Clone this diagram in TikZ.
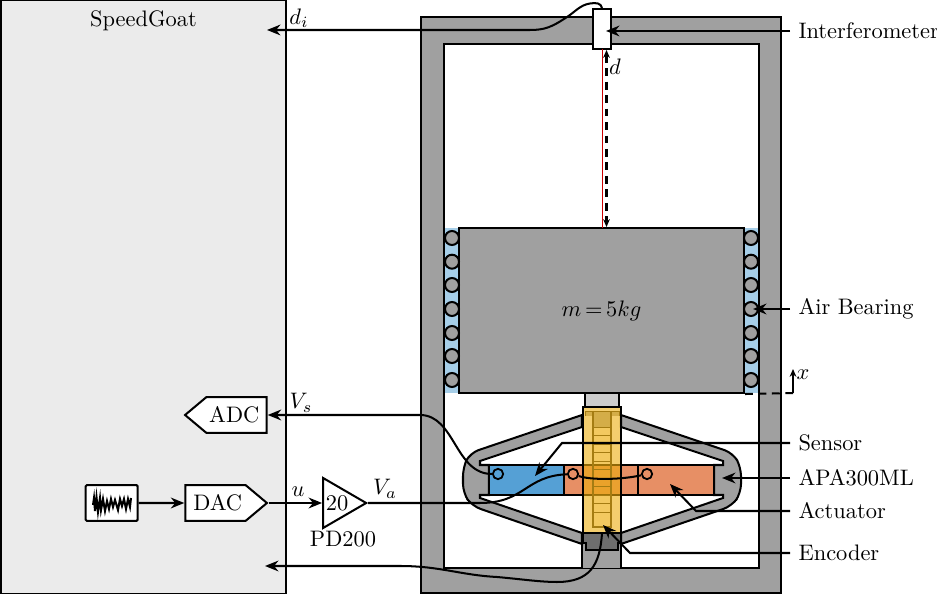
\documentclass[tikz,border=0pt]{standalone}
\usepackage{amsmath}
\usepackage{xcolor}
\usepackage{tikz}
\usetikzlibrary{arrows.meta, shapes.geometric, shapes.symbols}

\definecolor{framegray}{HTML}{A0A0A0}
\definecolor{boardgray}{HTML}{EBEBEB}
\definecolor{stubgray}{HTML}{CCCCCC}
\definecolor{headgray}{HTML}{6E6E6E}
\definecolor{airblue}{HTML}{A6CEE8}
\definecolor{sensorblue}{HTML}{55A0D5}
\definecolor{actorange}{HTML}{E78F65}
\definecolor{rulergold}{HTML}{EDAD0D}
\definecolor{rungbrown}{HTML}{A57C12}

\tikzset{
    wire/.style={line width=0.9pt},
    part/.style={draw=black, line width=0.9pt},
    callout/.style={anchor=west, inner sep=3.6pt},
    pin/.style={circle, draw=black, line width=0.8pt, minimum size=4.6pt, inner sep=0pt},
    bearing/.style={fill=framegray, draw=black, line width=0.9pt},
    rung/.style={draw=rungbrown, line width=0.4pt},
    adapter/.style={signal, draw=black, fill=white, line width=0.9pt, inner sep=0pt,
        minimum width=36.4pt, minimum height=15.9pt, signal pointer angle=80},
}

\begin{document}
\begin{tikzpicture}[x=0.446pt, y=-0.446pt, >={Stealth[length=6pt,width=4.8pt]}]
    \useasboundingbox (0,0) rectangle (937,594);

    % SpeedGoat
    \fill[boardgray] (0,0) rectangle (286,594);
    \draw[part] (0.5,0) rectangle (286,594);
    \node[inner sep=0pt] (speedgoat) at (143.5,21) {SpeedGoat};

    % Bati
    \draw[part, fill=framegray, even odd rule] (421,17) rectangle (781,593) (444,44) rectangle (759,568);
    \draw[part, fill=framegray] (582,568) -- (582,533) -- (621,533) -- (621,568);

    % Air bearing
    \fill[airblue] (445,228) rectangle (459,393);
    \fill[airblue] (744,228) rectangle (758,393);

    % Masse
    \node[part, fill=framegray, minimum width=127.1pt, minimum height=73.6pt, inner sep=0pt] (mass) at (601.5,310.5) {$m\,{=}\,5kg$};
    \foreach \y in {238,261.7,285,309,333,356,380} {
        \draw[bearing] (452,\y) circle (7);
        \draw[bearing] (751,\y) circle (7);
    }
    \draw[part, fill=stubgray] (585,393) rectangle (619,407);

    % APA
    \draw[part, fill=framegray] (582,415) [rounded corners=4pt] -- (470,453) -- (463,467) -- (463,493) -- (472,506) [sharp corners] -- (582,544) -- (582,533)
        -- (480,498) -- (480,495) -- (489,495) -- (489,465) -- (480,465) -- (480,461) -- (582,427) -- cycle;
    \draw[part, fill=framegray] (621,415) [rounded corners=4pt] -- (733,453) -- (741,467) -- (741,493) -- (732,506) [sharp corners] -- (621,544) -- (621,533)
        -- (723,498) -- (723,495) -- (714,495) -- (714,465) -- (723,465) -- (723,461) -- (621,427) -- cycle;
    \draw[part, fill=sensorblue] (489,465) rectangle (564,495);
    \draw[part, fill=actorange] (564,465) rectangle (638,495);
    \draw[part, fill=actorange] (638,465) rectangle (714,495);

    % Codeur
    \fill[rulergold, opacity=0.6] (583,407) rectangle (621,533);
    \fill[rungbrown, opacity=0.4] (585,411) rectangle (619,416);
    \fill[rungbrown, opacity=0.4] (593,416) rectangle (611,427);
    \fill[rulergold, opacity=0.15] (593,427) rectangle (611,527);
    \draw[rung, line width=0.7pt] (593,411) -- (593,527) -- (611,527) -- (611,411);
    \draw[rung] (585,416) -- (585,411) -- (619,411) -- (619,416);
    \foreach \y in {427,435.5,...,520} {
        \draw[rung] (593,\y) -- (611,\y);
    }
    \draw[part] (583,407) rectangle (621,533);
    \draw[part, fill=headgray] (583,533) -- (621,533) -- (621,543) -- (617.7,543) -- (617.7,550) -- (585.7,550) -- (585.7,543) -- (583,543) -- cycle;

    % Interferometre
    \node[part, fill=white, minimum width=8.1pt, minimum height=17.8pt, inner sep=0pt] (interf) at (602,29) {};
    \coordinate (beam) at (602.5,228);
    \draw[red!80!black, line width=0.6pt] (602.5,49) -- (beam);
    \draw[<->, wire, dash pattern=on 3.5pt off 2.5pt, >={Stealth[length=3.5pt,width=3pt]}] (606.5,50) -- (606.5,227);
    \node[inner sep=0pt] (dlabel) at (615,67) {$d$};

    % Contacts
    \node[pin] (pina) at (498,474) {};
    \node[pin] (pinb) at (573,474) {};
    \node[pin] (pinc) at (647,474) {};

    % Blocs SpeedGoat
    \node[adapter, signal to=west, signal from=nowhere] (adc) at (236.5,415) {ADC\hspace*{2pt}};
    \node[adapter, signal to=east, signal from=nowhere] (dac) at (215.5,503) {\hspace*{2pt}DAC};
    \node[part, fill=white, rounded corners=0.5pt, minimum width=23.2pt, minimum height=15.9pt, inner sep=0pt] (noise) at (111.7,503) {};
    \draw[line width=0.9pt] (93,505) -- (94,498) -- (95,511) -- (96.5,497) -- (98,512) -- (100,498) -- (101,510) -- (103,499) -- (105,511) -- (107,501) -- (109,509) -- (111,499) -- (113,507) -- (115,500) -- (118,510) -- (120,499) -- (122,506) -- (124,499) -- (126,509) -- (128,499) -- (130,507) -- (131,498);
    \node[isosceles triangle, isosceles triangle apex angle=60, isosceles triangle stretches, draw=black, fill=white, line width=0.9pt,
        minimum width=22.3pt, minimum height=19.2pt, inner sep=0pt] (amp) at (337.5,503) {};
    \node[inner sep=0pt] (gain) at (337,503) {20};
    \node[inner sep=0pt] (pd) at (343,539) {PD200};

    % Signaux
    \draw[->, wire] (noise) -- (dac);
    \draw[->, wire] (dac.east) -- (amp.west);
    \draw[wire] (amp.east) -- (480,503) .. controls (525,503) and (525,476) .. (pinb);
    \draw[wire] (pinb) .. controls (590,480) and (620,480) .. (pinc);
    \draw[->, wire] (pina) .. controls (455,474) and (455,415) .. (420,415) -- (adc.east);

    \coordinate (di) at (267,30);
    \coordinate (enc) at (265,566);
    \coordinate (head) at (602,533);
    \draw[->, wire] (interf.north) .. controls (601,3) and (596,2.5) .. (590,3.5) .. controls (580,5) and (575,12) .. (567,17) .. controls (552,27) and (545,30) .. (530,30) -- (di);
    \draw[->, wire] (head) .. controls (600,565) and (590,582) .. (557,582) .. controls (540,582) and (520,579) .. (497,577) .. controls (460,575) and (440,566) .. (400,566) -- (enc);

    \node[inner sep=0pt] at (299,18) {$d_i$};
    \node[inner sep=0pt] at (301,403) {$V_s$};
    \node[inner sep=0pt] at (298,492) {$u$};
    \node[inner sep=0pt] at (385,489) {$V_a$};

    % Etiquette x
    \coordinate (xbase) at (793,393);
    \coordinate (xend) at (798,393);
    \coordinate (xtip) at (793,369);
    \draw[wire, dash pattern=on 3.5pt off 2.5pt] (mass.south east) -- (xend);
    \draw[->, wire, >={Stealth[length=3.5pt,width=3pt]}] (xbase) -- (xtip);
    \node[inner sep=0pt] (xlabel) at (803,375) {$x$};

    % Etiquette
    \node[callout] (linterf) at (790,31) {Interferometer};
    \node[callout] (lair) at (790,309) {Air Bearing};
    \node[callout] (lsensor) at (790,443) {Sensor};
    \node[callout] (lapa) at (790,478) {APA300ML};
    \node[callout] (lact) at (790,511) {Actuator};
    \node[callout] (lenc) at (790,553) {Encoder};

    \coordinate (tipinterf) at (606,31);
    \coordinate (tipair) at (753,309);
    \coordinate (tipsensor) at (535,476);
    \coordinate (tipapa) at (722,478);
    \coordinate (tipact) at (670,484);
    \coordinate (tipenc) at (603,525);
    \draw[->, wire] (linterf.west) -- (tipinterf);
    \draw[->, wire] (lair.west) -- (tipair);
    \draw[->, wire] (lsensor.west) -- (562,443) -- (tipsensor);
    \draw[->, wire] (lapa.west) -- (tipapa);
    \draw[->, wire] (lact.west) -- (696,511) -- (tipact);
    \draw[->, wire] (lenc.west) -- (630,553) -- (tipenc);
\end{tikzpicture}
\end{document}
